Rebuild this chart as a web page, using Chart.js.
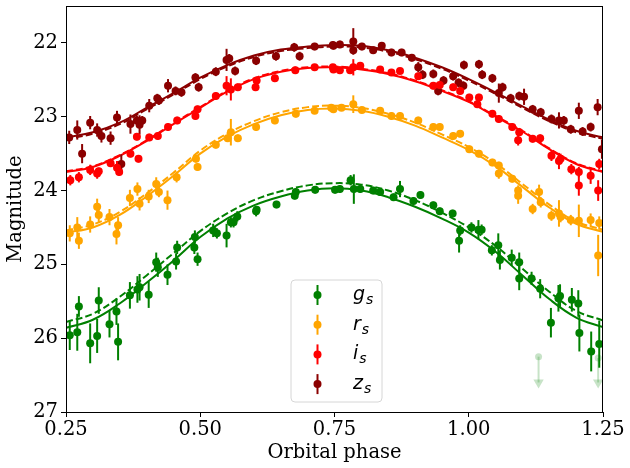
<!DOCTYPE html>
<html>
<head>
<meta charset="utf-8">
<script src="https://cdn.jsdelivr.net/npm/chart.js@4"></script>
<style>
  html, body { margin: 0; padding: 0; background: #fff; }
  #wrap { width: 630px; height: 468px; }
</style>
</head>
<body>
<div id="wrap"><canvas id="lightCurve"></canvas></div>
<script>
// ---- observed points (phase, magnitude, error) ----
const gPhase = [0.257,0.271,0.274,0.295,0.308,0.311,0.331,0.344,0.347,0.369,0.383,0.387,0.404,0.418,0.421,0.439,0.455,0.457,0.489,0.490,0.495,0.524,0.531,0.549,0.557,0.562,0.569,0.604,0.605,0.642,0.676,0.678,0.714,0.751,0.760,0.780,0.786,0.798,0.822,0.835,0.860,0.872,0.897,0.910,0.934,0.946,0.970,0.984,0.982,1.005,1.018,1.024,1.043,1.055,1.058,1.080,1.094,1.094,1.117,1.133,1.153,1.167,1.170,1.192,1.204,1.206,1.228,1.243];
const gMag = [25.96,25.92,25.57,26.07,25.97,25.49,25.81,25.64,26.05,25.42,25.34,25.31,25.41,24.97,25.04,25.14,24.96,24.77,24.77,24.63,24.93,24.54,24.58,24.61,24.43,24.43,24.35,24.28,24.26,24.19,24.07,24.02,23.99,23.99,23.98,23.86,23.98,23.98,24.00,24.02,24.09,23.98,24.14,24.06,24.20,24.28,24.31,24.54,24.68,24.50,24.53,24.53,24.81,24.74,24.94,24.91,24.97,25.19,25.19,25.33,25.79,25.46,25.43,25.48,25.53,25.93,26.18,26.08];
const gErr = [0.20,0.25,0.14,0.27,0.23,0.18,0.18,0.18,0.25,0.18,0.18,0.18,0.18,0.13,0.13,0.14,0.11,0.09,0.09,0.09,0.09,0.09,0.07,0.16,0.07,0.07,0.07,0.07,0.05,0.05,0.05,0.05,0.05,0.05,0.05,0.07,0.20,0.05,0.05,0.05,0.05,0.11,0.05,0.05,0.05,0.05,0.05,0.07,0.16,0.07,0.13,0.07,0.07,0.16,0.13,0.11,0.13,0.16,0.09,0.13,0.20,0.18,0.16,0.16,0.18,0.25,0.27,0.32];

const rPhase = [0.257,0.271,0.274,0.295,0.308,0.311,0.331,0.344,0.347,0.369,0.383,0.387,0.404,0.418,0.423,0.439,0.456,0.492,0.495,0.529,0.551,0.557,0.570,0.604,0.639,0.678,0.713,0.744,0.748,0.763,0.785,0.801,0.835,0.856,0.872,0.906,0.934,0.946,0.971,0.984,1.001,1.019,1.044,1.056,1.056,1.081,1.092,1.092,1.119,1.131,1.134,1.154,1.168,1.171,1.190,1.205,1.227,1.243,1.241];
const rMag = [24.58,24.50,24.68,24.46,24.22,24.33,24.36,24.59,24.47,24.10,23.98,24.18,24.08,23.91,24.02,24.13,23.82,23.57,23.68,23.38,23.29,23.21,23.29,23.14,23.05,22.96,22.92,22.88,22.90,22.88,22.83,22.91,22.92,22.99,22.99,23.05,23.14,23.14,23.26,23.23,23.44,23.50,23.62,23.66,23.77,23.84,24.00,24.07,24.25,24.02,24.16,24.34,24.31,24.36,24.40,24.41,24.40,24.44,24.88];
const rErr = [0.11,0.14,0.11,0.11,0.11,0.11,0.11,0.14,0.11,0.11,0.09,0.09,0.09,0.09,0.07,0.13,0.07,0.05,0.05,0.05,0.05,0.18,0.05,0.05,0.05,0.05,0.04,0.04,0.04,0.04,0.12,0.04,0.04,0.05,0.05,0.05,0.05,0.05,0.05,0.05,0.05,0.05,0.05,0.05,0.07,0.05,0.07,0.11,0.07,0.10,0.07,0.07,0.18,0.07,0.07,0.22,0.09,0.09,0.28];

const iPhase = [0.258,0.274,0.295,0.308,0.311,0.333,0.345,0.349,0.370,0.382,0.385,0.405,0.421,0.440,0.457,0.491,0.495,0.529,0.549,0.557,0.570,0.603,0.605,0.639,0.677,0.713,0.747,0.748,0.760,0.779,0.785,0.798,0.835,0.856,0.872,0.906,0.934,0.946,0.971,0.984,1.001,1.019,1.016,1.044,1.056,1.081,1.094,1.092,1.119,1.133,1.154,1.168,1.171,1.191,1.205,1.205,1.227,1.243,1.241];
const iMag = [23.86,23.82,23.72,23.77,23.74,23.63,23.69,23.75,23.50,23.27,23.57,23.28,23.26,23.14,23.05,22.99,22.90,22.72,22.58,22.63,22.60,22.60,22.51,22.48,22.37,22.33,22.33,22.36,22.37,22.37,22.33,22.31,22.36,22.40,22.38,22.45,22.58,22.57,22.60,22.65,22.74,22.74,22.83,22.96,23.03,23.14,23.21,23.32,23.30,23.29,23.53,23.60,23.57,23.71,23.75,23.93,23.80,23.64,24.00];
const iErr = [0.07,0.07,0.07,0.07,0.05,0.05,0.09,0.05,0.05,0.05,0.05,0.05,0.05,0.05,0.05,0.05,0.05,0.05,0.13,0.15,0.05,0.05,0.05,0.05,0.05,0.04,0.04,0.04,0.04,0.04,0.11,0.04,0.04,0.04,0.04,0.04,0.05,0.05,0.05,0.05,0.05,0.05,0.05,0.05,0.05,0.05,0.05,0.07,0.05,0.05,0.07,0.11,0.07,0.07,0.07,0.14,0.11,0.07,0.14];

const zPhase = [0.256,0.271,0.280,0.295,0.308,0.316,0.333,0.345,0.353,0.370,0.382,0.387,0.392,0.405,0.420,0.423,0.440,0.454,0.465,0.491,0.497,0.529,0.549,0.554,0.565,0.604,0.641,0.675,0.685,0.713,0.747,0.748,0.760,0.785,0.785,0.801,0.822,0.838,0.856,0.875,0.894,0.906,0.914,0.934,0.943,0.953,0.971,0.981,0.990,0.991,1.019,1.025,1.044,1.056,1.063,1.078,1.094,1.103,1.119,1.134,1.154,1.168,1.177,1.190,1.205,1.212,1.227,1.240,1.248];
const zMag = [23.28,23.18,23.50,23.08,23.18,23.26,23.29,23.01,23.64,23.10,23.05,23.11,23.05,22.85,22.75,22.78,22.58,22.65,22.67,22.47,22.60,22.39,22.23,22.21,22.38,22.24,22.18,22.06,22.18,22.05,22.03,22.04,22.02,21.98,22.10,22.05,22.10,22.04,22.13,22.13,22.20,22.33,22.43,22.42,22.65,22.51,22.45,22.54,22.58,22.30,22.29,22.43,22.48,22.68,22.60,22.75,22.72,22.73,22.90,22.94,23.03,23.05,23.05,23.17,22.92,23.20,23.14,22.87,23.44];
const zErr = [0.09,0.13,0.13,0.09,0.09,0.09,0.09,0.09,0.13,0.13,0.06,0.13,0.06,0.09,0.06,0.06,0.09,0.06,0.06,0.06,0.06,0.06,0.15,0.06,0.06,0.06,0.06,0.06,0.06,0.05,0.05,0.05,0.05,0.18,0.05,0.05,0.05,0.05,0.05,0.05,0.05,0.07,0.06,0.06,0.06,0.06,0.06,0.06,0.06,0.06,0.06,0.06,0.06,0.13,0.06,0.06,0.06,0.11,0.06,0.06,0.06,0.11,0.06,0.06,0.11,0.06,0.06,0.11,0.13];

// g-band upper limits (faint arrows)
const limPhase = [1.130, 1.241];
const limMag = [26.25, 26.27];
const limArrowMag = [26.60, 26.60];

// ---- model curves ----
const modelPhase = [0.25,0.30,0.35,0.40,0.45,0.50,0.55,0.60,0.65,0.70,0.75,0.80,0.85,0.90,0.95,1.00,1.05,1.10,1.15,1.20,1.25];
const gModel = [25.86,25.75,25.53,25.25,24.95,24.63,24.38,24.20,24.08,24.00,23.97,24.00,24.09,24.22,24.38,24.57,24.83,25.15,25.47,25.72,25.85];
const gModelAlt = [25.78,25.67,25.44,25.15,24.85,24.55,24.31,24.13,24.01,23.93,23.90,23.92,24.00,24.13,24.30,24.50,24.75,25.06,25.37,25.63,25.76];
const rModel = [24.57,24.50,24.33,24.08,23.80,23.50,23.27,23.10,22.98,22.91,22.89,22.92,23.00,23.12,23.28,23.45,23.67,23.95,24.23,24.45,24.56];
const rModelAlt = [24.54,24.46,24.29,24.04,23.76,23.46,23.23,23.06,22.94,22.87,22.85,22.88,22.96,23.08,23.24,23.41,23.63,23.91,24.19,24.42,24.53];
const iModel = [23.75,23.68,23.53,23.33,23.10,22.88,22.66,22.49,22.39,22.34,22.33,22.36,22.42,22.52,22.65,22.80,23.00,23.20,23.44,23.64,23.75];
const iModelAlt = [23.74,23.67,23.52,23.32,23.09,22.87,22.65,22.48,22.38,22.33,22.32,22.35,22.41,22.51,22.64,22.79,22.99,23.19,23.43,23.63,23.74];
const zModel = [23.28,23.21,23.08,22.88,22.68,22.47,22.30,22.17,22.09,22.05,22.03,22.04,22.10,22.20,22.33,22.49,22.67,22.86,23.04,23.19,23.28];
const zModelAlt = [23.30,23.23,23.10,22.90,22.70,22.49,22.32,22.19,22.11,22.07,22.05,22.06,22.12,22.22,22.35,22.51,22.69,22.88,23.06,23.21,23.30];

const xTicks = [0.25, 0.50, 0.75, 1.00, 1.25];
const yTicks = [22, 23, 24, 25, 26, 27];

const bands = [
  { name: 'g', color: 'green',   phase: gPhase, mag: gMag, err: gErr, model: gModel, alt: gModelAlt },
  { name: 'r', color: 'orange',  phase: rPhase, mag: rMag, err: rErr, model: rModel, alt: rModelAlt },
  { name: 'i', color: 'red',     phase: iPhase, mag: iMag, err: iErr, model: iModel, alt: iModelAlt },
  { name: 'z', color: 'darkred', phase: zPhase, mag: zMag, err: zErr, model: zModel, alt: zModelAlt }
];

const pts = (xs, ys) => xs.map((x, i) => ({ x: x, y: ys[i] }));

const datasets = [];
bands.forEach(b => {
  datasets.push({
    type: 'line', data: pts(modelPhase, b.model), borderColor: b.color, borderWidth: 2,
    pointRadius: 0, tension: 0.4, fill: false, order: 10
  });
  datasets.push({
    type: 'line', data: pts(modelPhase, b.alt), borderColor: b.color, borderWidth: 2,
    borderDash: [7, 3], pointRadius: 0, tension: 0.4, fill: false, order: 10
  });
  datasets.push({
    type: 'scatter', data: pts(b.phase, b.mag), err: b.err, label: b.name,
    backgroundColor: b.color, borderWidth: 0, pointRadius: 4, pointHoverRadius: 4, order: 1
  });
});
// upper limits
const limColor = 'rgba(0,128,0,0.22)';
datasets.push({
  type: 'scatter', data: pts(limPhase, limMag), limitTo: limArrowMag,
  backgroundColor: limColor, borderWidth: 0, pointRadius: 3.5, order: 1
});
datasets.push({
  type: 'scatter', data: pts(limPhase, limArrowMag), pointStyle: 'triangle', rotation: 180,
  backgroundColor: limColor, borderWidth: 0, pointRadius: 6, order: 1
});

const errorBars = {
  id: 'errorBars',
  afterDatasetDraw(chart, args) {
    const ds = chart.data.datasets[args.index];
    if (!ds.err && !ds.limitTo) return;
    const ctx = chart.ctx, xs = chart.scales.x, ys = chart.scales.y;
    ctx.save();
    ctx.strokeStyle = ds.backgroundColor;
    ctx.lineWidth = 2;
    ds.data.forEach((p, i) => {
      const px = xs.getPixelForValue(p.x);
      let y1, y2;
      if (ds.err) { y1 = ys.getPixelForValue(p.y - ds.err[i]); y2 = ys.getPixelForValue(p.y + ds.err[i]); }
      else { y1 = ys.getPixelForValue(p.y); y2 = ys.getPixelForValue(ds.limitTo[i]); }
      ctx.beginPath(); ctx.moveTo(px, y1); ctx.lineTo(px, y2); ctx.stroke();
    });
    ctx.restore();
  }
};

const frameAndLegend = {
  id: 'frameAndLegend',
  afterDraw(chart) {
    const ctx = chart.ctx, a = chart.chartArea;
    ctx.save();
    ctx.strokeStyle = '#000';
    ctx.lineWidth = 1;
    ctx.strokeRect(a.left + 0.5, a.top + 0.5, a.right - a.left - 1, a.bottom - a.top);

    // legend box
    const bx = 291, by = 280, bw = 91, bh = 122, r = 4;
    ctx.beginPath();
    ctx.moveTo(bx + r, by);
    ctx.arcTo(bx + bw, by, bx + bw, by + bh, r);
    ctx.arcTo(bx + bw, by + bh, bx, by + bh, r);
    ctx.arcTo(bx, by + bh, bx, by, r);
    ctx.arcTo(bx, by, bx + bw, by, r);
    ctx.closePath();
    ctx.fillStyle = 'rgba(255,255,255,0.8)';
    ctx.fill();
    ctx.strokeStyle = '#d6d6d6';
    ctx.stroke();

    bands.forEach((b, k) => {
      const cy = 295 + k * 29.7, mx = 317.5;
      ctx.strokeStyle = b.color; ctx.lineWidth = 2;
      ctx.beginPath(); ctx.moveTo(mx, cy - 10); ctx.lineTo(mx, cy + 10); ctx.stroke();
      ctx.fillStyle = b.color;
      ctx.beginPath(); ctx.arc(mx, cy, 4, 0, Math.PI * 2); ctx.fill();
      ctx.fillStyle = '#000';
      ctx.textBaseline = 'alphabetic';
      ctx.font = 'italic 19px "DejaVu Sans"';
      ctx.fillText(b.name, 353, cy + 5);
      const w = ctx.measureText(b.name).width;
      ctx.font = 'italic 14px "DejaVu Sans"';
      ctx.fillText('s', 353 + w + 1, cy + 9);
    });
    ctx.restore();
  }
};

const serif = { family: '"DejaVu Serif"', size: 19.5 };

new Chart(document.getElementById('lightCurve'), {
  data: { datasets: datasets },
  options: {
    responsive: true,
    maintainAspectRatio: false,
    animation: false,
    layout: { padding: { top: 5, right: 27, left: 0, bottom: 0 } },
    plugins: { legend: { display: false }, tooltip: { enabled: false } },
    scales: {
      x: {
        type: 'linear', min: 0.25, max: 1.25,
        afterBuildTicks: s => { s.ticks = xTicks.map(v => ({ value: v })); },
        afterFit: s => { s.height = 56; s.paddingLeft = 0; s.paddingRight = 0; },
        grid: { drawOnChartArea: false, drawTicks: true, tickLength: 5, color: '#000' },
        border: { color: '#000' },
        ticks: { color: '#000', font: serif, padding: 1, maxRotation: 0, callback: v => v.toFixed(2) },
        title: { display: true, text: 'Orbital phase', color: '#000', font: serif, padding: { top: 0, bottom: 3 } }
      },
      y: {
        type: 'linear', min: 21.5, max: 27, reverse: true,
        afterBuildTicks: s => { s.ticks = yTicks.map(v => ({ value: v })); },
        afterFit: s => { s.width = 66; s.paddingTop = 0; s.paddingBottom = 0; },
        grid: { drawOnChartArea: false, drawTicks: true, tickLength: 5, color: '#000' },
        border: { color: '#000' },
        ticks: { color: '#000', font: serif, padding: 3 },
        title: { display: true, text: 'Magnitude', color: '#000', font: serif, padding: { top: 4, bottom: 0 } }
      }
    }
  },
  plugins: [errorBars, frameAndLegend]
});
</script>
</body>
</html>
